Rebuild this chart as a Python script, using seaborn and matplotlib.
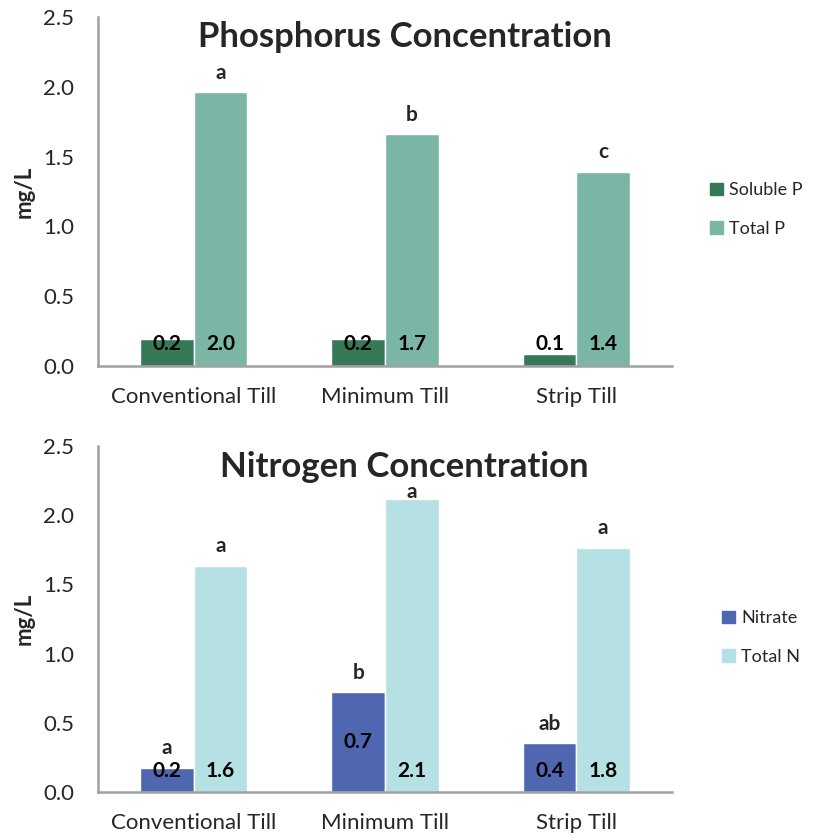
import numpy as np
import pandas as pd
import matplotlib
matplotlib.use("Agg")
import matplotlib.pyplot as plt
import matplotlib.patches as mpatches
import seaborn as sns

# --- data ---
tillage = ["Conventional Till", "Minimum Till", "Strip Till"]

soluble_p = [0.19, 0.19, 0.085]
total_p = [1.96, 1.66, 1.39]
soluble_p_letters = ["", "", ""]
total_p_letters = ["a", "b", "c"]

nitrate = [0.175, 0.72, 0.355]
total_n = [1.635, 2.12, 1.765]
nitrate_letters = ["a", "b", "ab"]
total_n_letters = ["a", "a", "a"]

yticks = [0.0, 0.5, 1.0, 1.5, 2.0, 2.5]

p_colors = ["#377856", "#7bb5a6"]
n_colors = ["#4e67b0", "#b6e1e4"]

sns.set_style("white")
plt.rcParams["font.family"] = ["Lato", "DejaVu Sans"]

AXIS_GREY = "#a0a0a0"


def draw_panel(ax, names, series, letters, colors, title, title_y, legend_xy, mid_labels=None):
    df = pd.DataFrame({
        "Tillage": tillage * 2,
        "mg/L": series[0] + series[1],
        "Series": [names[0]] * 3 + [names[1]] * 3,
    })
    sns.barplot(data=df, x="Tillage", y="mg/L", hue="Series", palette=colors,
                width=0.56, saturation=1, errorbar=None, ax=ax, legend=False)

    for i, cont in enumerate(ax.containers):
        for j, bar in enumerate(cont):
            val = series[i][j]
            x = bar.get_x() + bar.get_width() / 2
            # value label sits near the base (Excel "inside base"), one was centred
            y = val / 2 if (mid_labels and mid_labels[i][j]) else 0.155
            ax.text(x, y, f"{val:.1f}", ha="center", va="center",
                    fontsize=15, fontweight="bold", color="black")
            if letters[i][j]:
                # letter above the bar, squeezed under the title when too tall
                ly = min(val + 0.14, 2.17)
                ax.text(x, ly, letters[i][j], ha="center", va="center",
                        fontsize=15, fontweight="bold")

    ax.set_ylim(0, 2.5)
    ax.set_yticks(yticks)
    ax.set_yticklabels([f"{t:.1f}" for t in yticks])
    ax.set_xlim(-0.5, 2.5)
    ax.set_xticks([-0.5, 0.5, 1.5, 2.5])
    ax.set_xticklabels([])
    ax.set_xticks([0, 1, 2], tillage, minor=True)
    ax.tick_params(axis="x", which="major", length=6, width=1.5, color=AXIS_GREY, direction="out")
    ax.tick_params(axis="x", which="minor", length=0, pad=15, labelsize=16)
    ax.tick_params(axis="y", length=6, width=1.5, color=AXIS_GREY, direction="out", pad=11, labelsize=16)
    ax.set_xlabel("")
    ax.set_ylabel("mg/L", fontsize=16, fontweight="bold", labelpad=6)
    for side in ["top", "right"]:
        ax.spines[side].set_visible(False)
    for side in ["left", "bottom"]:
        ax.spines[side].set_color(AXIS_GREY)
        ax.spines[side].set_linewidth(1.8)

    fig = ax.figure
    fig.text(0.494, title_y, title, ha="center", va="center", fontsize=25, fontweight="bold")

    handles = [mpatches.Patch(color=c, label=n) for c, n in zip(colors, names)]
    ax.legend(handles=handles, loc="center left", bbox_to_anchor=legend_xy,
              bbox_transform=fig.transFigure, frameon=False, fontsize=13,
              handlelength=0.7, handleheight=0.7, handletextpad=0.35,
              labelspacing=1.25, borderpad=0, borderaxespad=0)


fig = plt.figure(figsize=(8.19, 8.39), dpi=100)
ax1 = fig.add_axes([0.1197, 0.5638, 0.7008, 0.4159])
ax2 = fig.add_axes([0.1197, 0.0560, 0.7008, 0.4124])

draw_panel(ax1, ["Soluble P", "Total P"], [soluble_p, total_p],
           [soluble_p_letters, total_p_letters], p_colors,
           "Phosphorus Concentration", 1 - 37 / 839, (0.867, 0.750))
draw_panel(ax2, ["Nitrate", "Total N"], [nitrate, total_n],
           [nitrate_letters, total_n_letters], n_colors,
           "Nitrogen Concentration", 1 - 467 / 839, (0.8816, 0.240),
           mid_labels=[[False, True, False], [False, False, False]])

fig.savefig("out.png", dpi=100)
